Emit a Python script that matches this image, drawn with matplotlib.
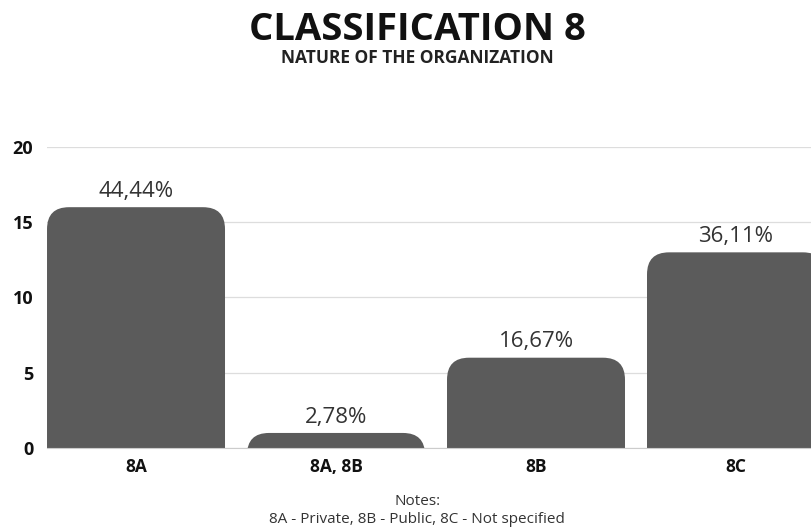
import matplotlib.pyplot as plt
from matplotlib.patches import FancyBboxPatch

plt.rcParams['font.family'] = ['Open Sans', 'DejaVu Sans']

categories = ['8A', '8A, 8B', '8B', '8C']
counts = [16, 1, 6, 13]
pct_labels = ['44,44%', '2,78%', '16,67%', '36,11%']
y_ticks = [0, 5, 10, 15, 20]

bar_color = '#5b5b5b'
width = 0.89

fig = plt.figure(figsize=(8.12, 5.31), dpi=100)
ax = fig.add_axes([0.0579, 0.1563, 0.9421, 0.5669])
ax.set_xlim(-0.445, 3.38)
ax.set_ylim(0, 20)

# pixel scale: 200 px per category, ~15 px per unit
px_x = 1 / 200
px_y = 20 / 301
r = 22  # corner radius in px
for i, (c, v) in enumerate(zip(categories, counts)):
    ext = r * px_y  # push the box below 0 so only the top corners show
    box = FancyBboxPatch((i - width / 2, -ext), width, v + ext,
                         boxstyle=f'round,pad=0,rounding_size={r * px_x}',
                         mutation_aspect=px_y / px_x,
                         fc=bar_color, ec='none', zorder=2)
    ax.add_patch(box)
    ax.text(i, v + 0.35, pct_labels[i], ha='center', va='bottom',
            fontsize=16, color='#333333')

ax.set_yticks(y_ticks)
ax.set_yticklabels([str(t) for t in y_ticks], fontsize=13, fontweight='bold', color='#111111')
ax.set_xticks(range(len(categories)))
ax.set_xticklabels(categories, fontsize=12.5, fontweight='bold', color='#111111')
ax.tick_params(length=0)
ax.tick_params(axis='y', pad=10)
ax.tick_params(axis='x', pad=7)
ax.grid(axis='y', color='#dddddd', linewidth=0.9, zorder=0)
for s in ['top', 'right', 'left']:
    ax.spines[s].set_visible(False)
ax.spines['bottom'].set_color('#cccccc')

fig.text(0.514, 0.943, 'CLASSIFICATION 8', ha='center', va='center',
         fontsize=27.5, fontweight='bold', color='#111111')
fig.text(0.514, 0.890, 'NATURE OF THE ORGANIZATION', ha='center', va='center',
         fontsize=12.5, fontweight='bold', color='#222222')
fig.text(0.514, 0.055, 'Notes:', ha='center', va='center', fontsize=11, color='#333333')
fig.text(0.514, 0.021, '8A - Private, 8B - Public, 8C - Not specified',
         ha='center', va='center', fontsize=11, color='#333333')

fig.savefig('out.png', dpi=100)
